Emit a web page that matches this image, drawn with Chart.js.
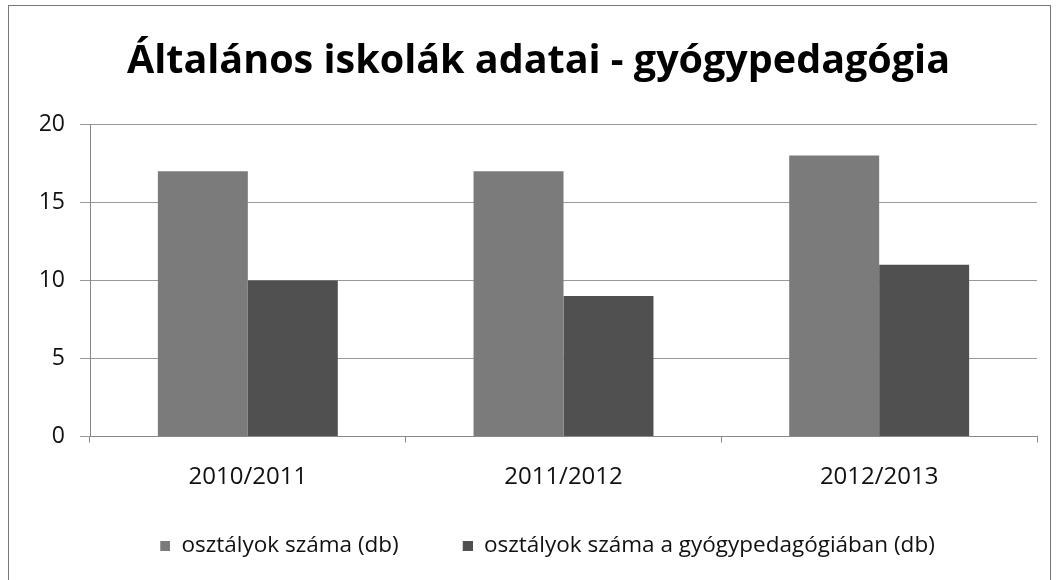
<!DOCTYPE html>
<html><head><meta charset="utf-8">
<script src="https://cdn.jsdelivr.net/npm/chart.js@4"></script>
<style>
html,body{margin:0;padding:0;background:#fff;}
#wrap{position:absolute;left:0;top:0;width:1057px;height:580px;overflow:hidden;}
#frame{position:absolute;left:8px;top:5px;width:1043px;height:590px;border:1px solid #777;box-sizing:border-box;pointer-events:none;}
</style></head><body>
<div id="wrap"><canvas id="c" width="1057" height="580"></canvas><div id="frame"></div></div>
<script>
const categories = ["2010/2011", "2011/2012", "2012/2013"];
const seriesNames = ["osztályok száma (db)", "osztályok száma a gyógypedagógiában (db)"];
const classes = [17, 17, 18];
const specialClasses = [10, 9, 11];
const yTicks = [0, 5, 10, 15, 20];
const seriesColors = ['#7b7b7b', '#505050'];

// legend marker: small square at the right end of a wider transparent box
const MARK_W = 28, MARK_BOX = 10;
function legendMarker(color) {
  const cv = document.createElement('canvas');
  cv.width = MARK_W; cv.height = MARK_BOX;
  const g = cv.getContext('2d');
  g.fillStyle = color;
  g.fillRect(MARK_W - MARK_BOX, 0, MARK_BOX, MARK_BOX);
  return cv;
}

new Chart(document.getElementById('c'), {
  type: 'bar',
  data: {
    labels: categories,
    datasets: [
      { label: seriesNames[0], data: classes, backgroundColor: seriesColors[0], borderWidth: 0 },
      { label: seriesNames[1], data: specialClasses, backgroundColor: seriesColors[1], borderWidth: 0 }
    ]
  },
  options: {
    responsive: false,
    animation: false,
    layout: { padding: { left: 40, right: 20, top: 12, bottom: 13 } },
    plugins: {
      title: {
        display: true,
        text: 'Általános iskolák adatai - gyógypedagógia',
        color: '#000',
        font: { family: 'Open Sans', size: 39.5, weight: 'bold', lineHeight: 1.2 },
        padding: { top: 26, bottom: 39 }
      },
      legend: {
        position: 'bottom',
        labels: {
          color: '#111',
          font: { family: 'Open Sans', size: 22.5 },
          usePointStyle: true,
          pointStyleWidth: MARK_W,
          boxHeight: MARK_BOX,
          padding: 46,
          generateLabels: chart => {
            const items = Chart.defaults.plugins.legend.labels.generateLabels(chart);
            items.forEach((it, i) => { it.pointStyle = legendMarker(seriesColors[i]); });
            return items;
          }
        }
      },
      tooltip: { enabled: false }
    },
    datasets: { bar: { categoryPercentage: 0.57, barPercentage: 1.0 } },
    scales: {
      x: {
        afterFit: s => { s.height = 52; },
        grid: { drawOnChartArea: false, color: '#888', tickLength: 6, offset: true },
        border: { color: '#888' },
        ticks: { color: '#111', font: { family: 'Open Sans', size: 24 }, padding: 20 }
      },
      y: {
        min: 0, max: 20,
        afterBuildTicks: s => { s.ticks = yTicks.map(v => ({ value: v })); },
        afterFit: s => { s.width = 50; },
        grid: { color: '#999', tickLength: 10 },
        border: { color: '#888' },
        ticks: { color: '#111', font: { family: 'Open Sans', size: 23 }, padding: 15 }
      }
    }
  }
});
</script>
</body></html>
